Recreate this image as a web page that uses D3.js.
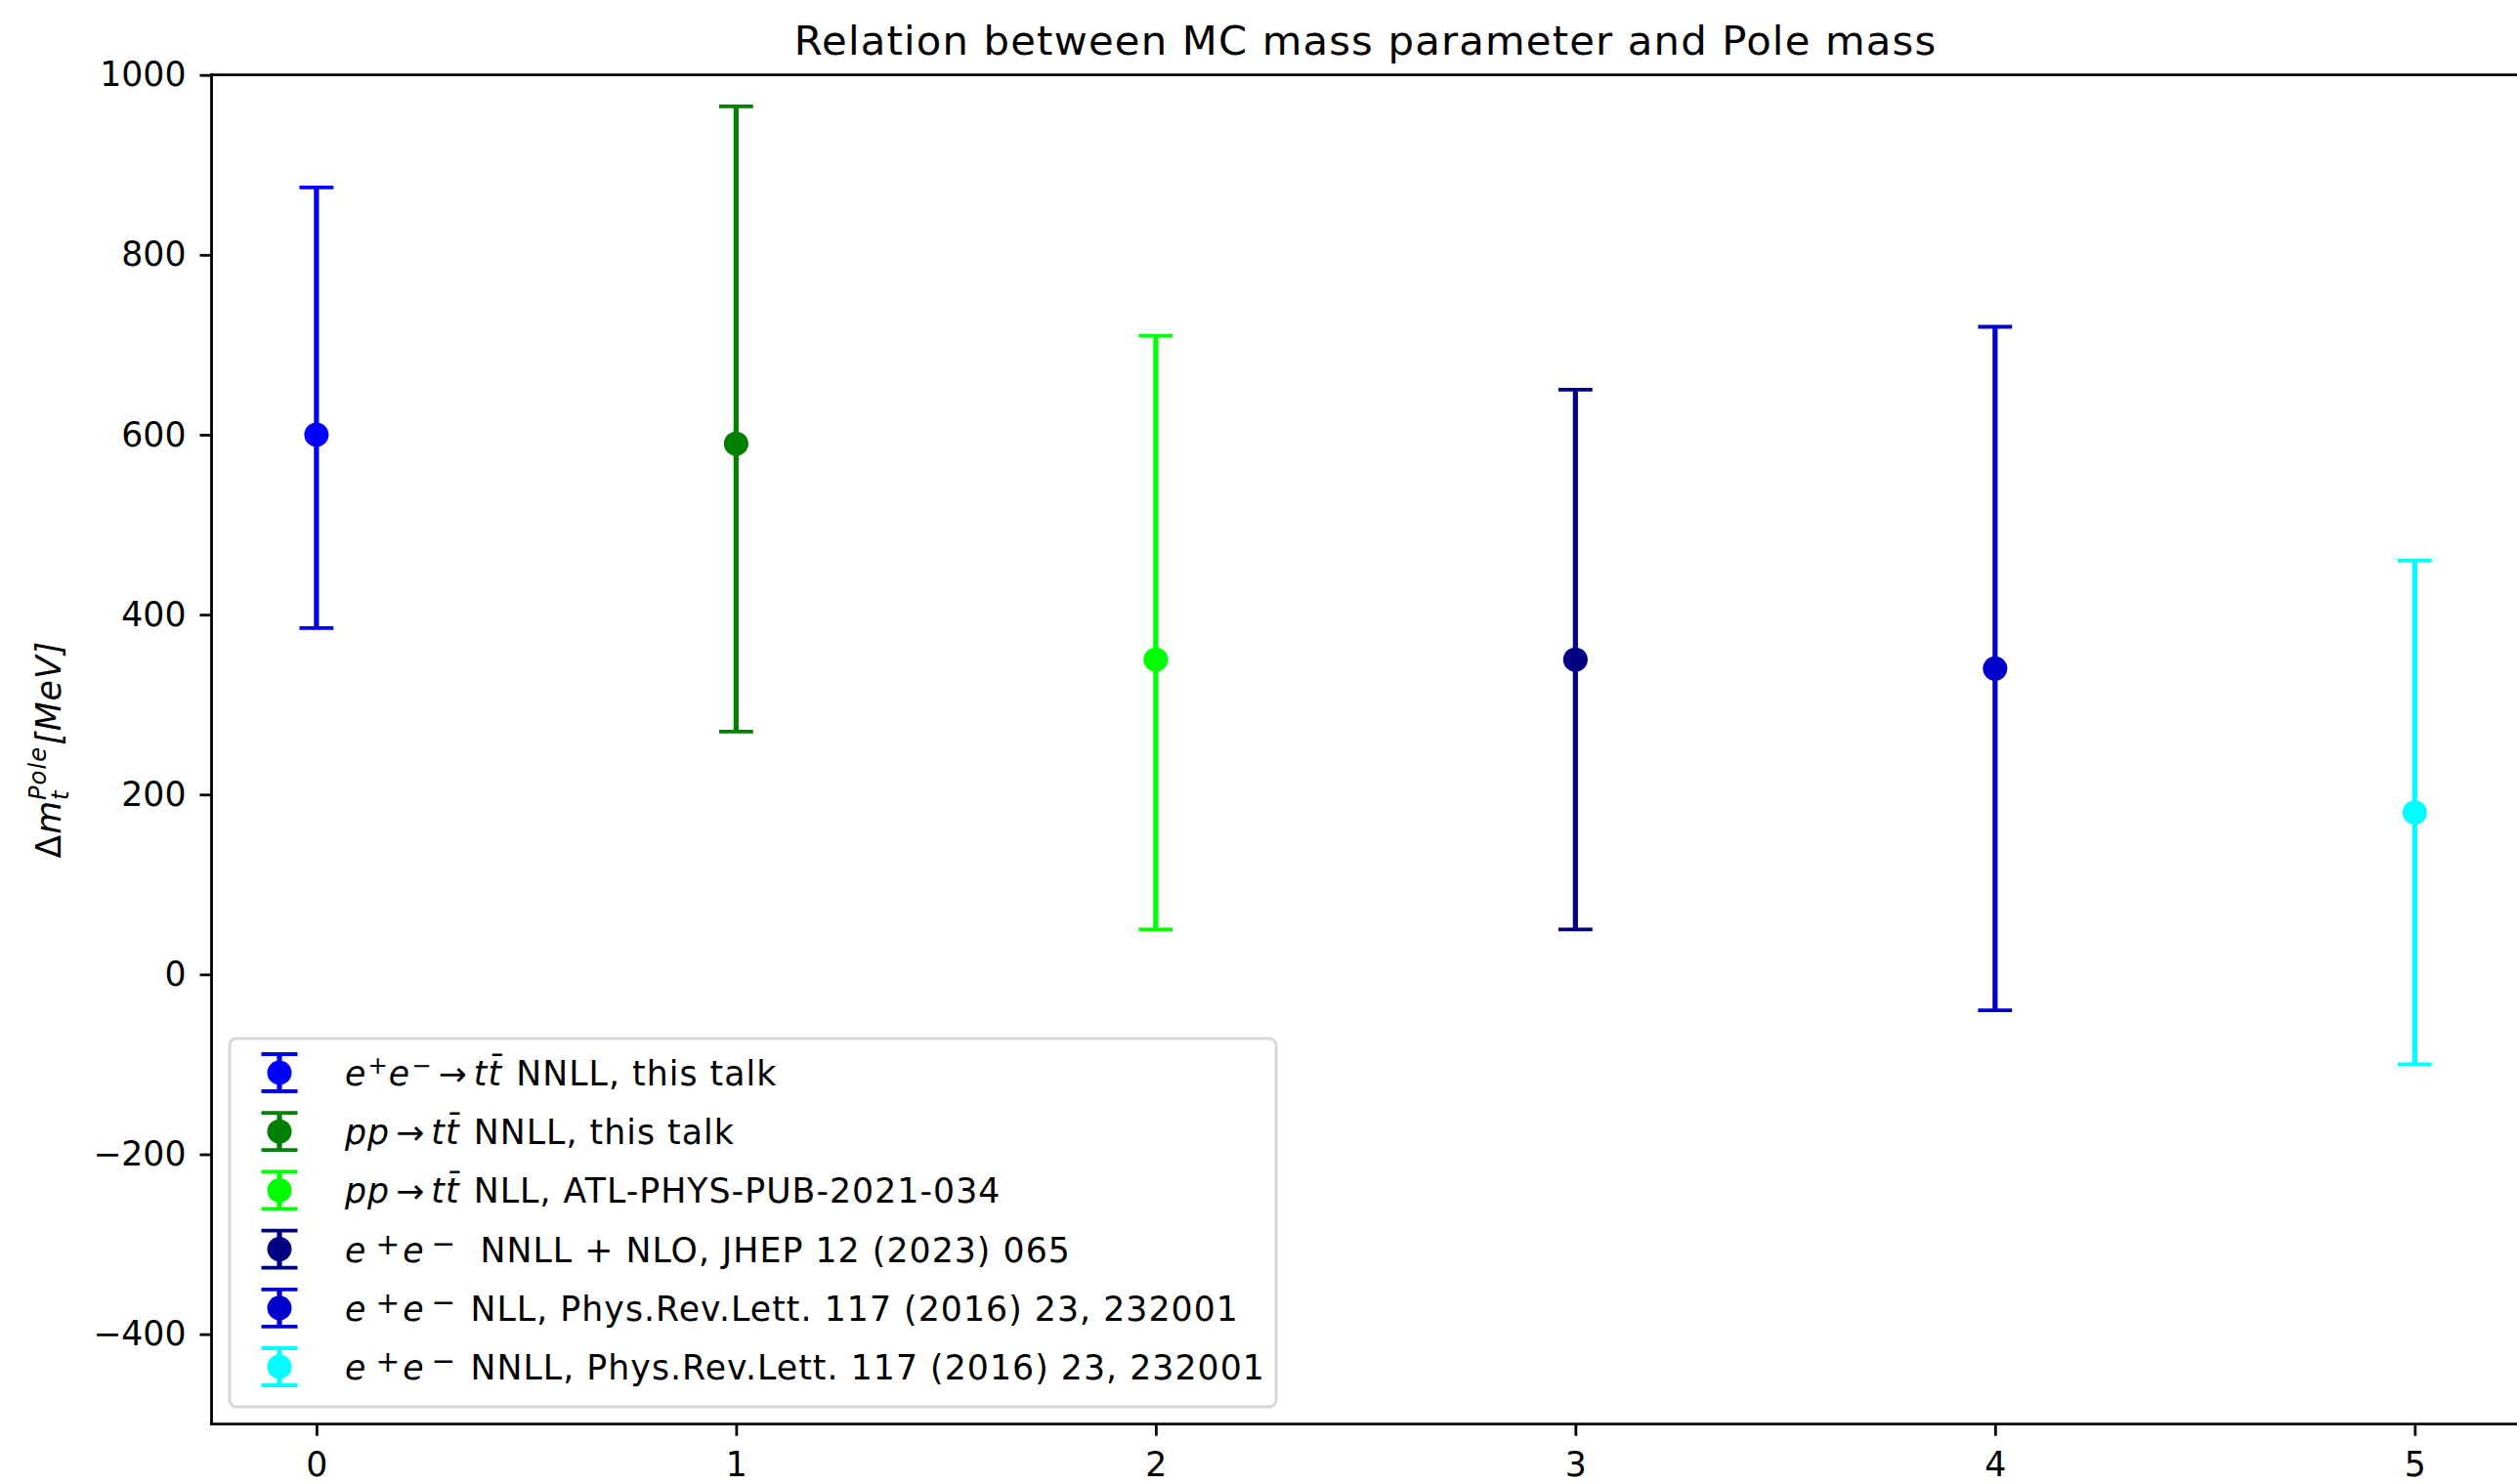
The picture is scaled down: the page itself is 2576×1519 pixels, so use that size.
<!DOCTYPE html>
<html>
<head>
<meta charset="utf-8">
<script src="https://cdn.jsdelivr.net/npm/d3@7"></script>
<style>
html,body{margin:0;padding:0;background:#fff;overflow:hidden;}
svg{display:block;font-family:"DejaVu Sans",sans-serif;}
</style>
</head>
<body>
<svg id="chart" width="2576" height="1519"></svg>
<script>
// ---------------- data ----------------
const categories = [0, 1, 2, 3, 4, 5];
const centralValues = [600, 590, 350, 350, 340, 180];
const upperValues = [875, 965, 710, 650, 720, 460];
const lowerValues = [385, 270, 50, 50, -40, -100];
const yTickValues = [-400, -200, 0, 200, 400, 600, 800, 1000];
const xTickValues = [0, 1, 2, 3, 4, 5];
const titleText = "Relation between MC mass parameter and Pole mass";
const seriesColors = ["#0000ff", "#008000", "#00ff00", "#000080", "#0000cd", "#00ffff"];

// legend labels as text segments (i = italic, fs = relative size, up = raise in px, dx = offset)
const legendLabels = [
  [{t:"e",i:1},{t:"+",fs:0.7,up:12,dx:1},{t:"e",i:1},{t:"\u2212",fs:0.7,up:12,dx:1},{t:"\u2192",dx:6},{t:"tt\u0304",i:1,dx:6},{t:" NNLL, this talk",dx:2}],
  [{t:"pp",i:1},{t:"\u2192",dx:6},{t:"tt\u0304",i:1,dx:6},{t:" NNLL, this talk",dx:2}],
  [{t:"pp",i:1},{t:"\u2192",dx:6},{t:"tt\u0304",i:1,dx:6},{t:" NLL, ATL-PHYS-PUB-2021-034",dx:2}],
  [{t:"e",i:1},{t:"+",fs:0.85,up:8,dx:9},{t:"e",i:1,dx:2},{t:"\u2212",fs:0.85,up:9,dx:7},{t:" NNLL + NLO, JHEP 12 (2023) 065",dx:12}],
  [{t:"e",i:1},{t:"+",fs:0.85,up:8,dx:9},{t:"e",i:1,dx:2},{t:"\u2212",fs:0.85,up:9,dx:7},{t:" NLL, Phys.Rev.Lett. 117 (2016) 23, 232001",dx:2}],
  [{t:"e",i:1},{t:"+",fs:0.85,up:8,dx:9},{t:"e",i:1,dx:2},{t:"\u2212",fs:0.85,up:9,dx:7},{t:" NNLL, Phys.Rev.Lett. 117 (2016) 23, 232001",dx:2}]
];

// ---------------- layout ----------------
const FS = 34.7;        // 10pt @ 250dpi
const svg = d3.select("#chart");
const x = d3.scaleLinear().domain([-0.25, 5.25]).range([216.5, 2578.7]);
const y = d3.scaleLinear().domain([-500, 1000]).range([1457.7, 76.7]);
const [xl, xr] = x.range();
const [yb, yt] = y.range();

// error bars
const capHalf = 17.4;
const g = svg.append("g");
categories.forEach((c, i) => {
  const col = seriesColors[i];
  const cx = x(c);
  g.append("line").attr("x1", cx).attr("x2", cx)
    .attr("y1", y(lowerValues[i])).attr("y2", y(upperValues[i]))
    .attr("stroke", col).attr("stroke-width", 5.2);
  [upperValues[i], lowerValues[i]].forEach(v => {
    g.append("line").attr("x1", cx - capHalf).attr("x2", cx + capHalf)
      .attr("y1", y(v)).attr("y2", y(v))
      .attr("stroke", col).attr("stroke-width", 3.8);
  });
  g.append("circle").attr("cx", cx).attr("cy", y(centralValues[i]))
    .attr("r", 12.5).attr("fill", col);
});

// axes
const fmt = d3.format("d");
const yAxis = svg.append("g").attr("transform", `translate(${xl},0)`)
  .call(d3.axisLeft(y).tickValues(yTickValues).tickFormat(fmt).tickSize(12).tickPadding(14));
const xAxis = svg.append("g").attr("transform", `translate(0,${yb})`)
  .call(d3.axisBottom(x).tickValues(xTickValues).tickFormat(fmt).tickSize(12).tickPadding(17));
[yAxis, xAxis].forEach(a => {
  a.select(".domain").remove();
  a.selectAll(".tick line").attr("stroke", "#000").attr("stroke-width", 2.8);
  a.selectAll(".tick text").attr("fill", "#000")
    .attr("font-family", "DejaVu Sans").attr("font-size", FS);
});

// spines
const spine = svg.append("g").attr("stroke", "#000").attr("stroke-width", 2.8).attr("stroke-linecap", "square");
spine.append("line").attr("x1", xl).attr("x2", xl).attr("y1", yt).attr("y2", yb);
spine.append("line").attr("x1", xr).attr("x2", xr).attr("y1", yt).attr("y2", yb);
spine.append("line").attr("x1", xl).attr("x2", xr).attr("y1", yt).attr("y2", yt);
spine.append("line").attr("x1", xl).attr("x2", xr).attr("y1", yb).attr("y2", yb);

// title
svg.append("text").attr("x", (xl + xr) / 2).attr("y", 56)
  .attr("text-anchor", "middle").attr("font-size", 41.7).attr("letter-spacing", 1.2)
  .attr("fill", "#000")
  .text(titleText);

// y label: Δ m_t^{Pole} [MeV]
const yl = svg.append("text")
  .attr("transform", `translate(62,${(yt + yb) / 2}) rotate(-90)`)
  .attr("text-anchor", "middle").attr("font-size", FS).attr("letter-spacing", 1)
  .attr("fill", "#000");
yl.append("tspan").text("\u0394");
yl.append("tspan").attr("font-style", "italic").text("m");
yl.append("tspan").attr("font-style", "italic").attr("font-size", FS * 0.7).attr("dy", 8).text("t");
yl.append("tspan").attr("font-style", "italic").attr("font-size", FS * 0.7).attr("dx", -10.5).attr("dy", -23).text("Pole");
yl.append("tspan").attr("font-style", "italic").attr("dy", 15).attr("dx", 1).text("[MeV]");

// legend
const lg = svg.append("g");
const lx = 235, ly = 1063, lw = 1071, lh = 377;
lg.append("rect").attr("x", lx).attr("y", ly).attr("width", lw).attr("height", lh)
  .attr("rx", 7).attr("ry", 7).attr("fill", "#fff").attr("fill-opacity", 0.8)
  .attr("stroke", "#d6d6d6").attr("stroke-width", 2.8);
const rowStep = 60.2, firstBase = 1111;
legendLabels.forEach((segs, i) => {
  const by = firstBase + i * rowStep;
  const my = by - 13;
  const mx = 286;
  const col = seriesColors[i];
  lg.append("line").attr("x1", mx).attr("x2", mx).attr("y1", my - 19).attr("y2", my + 19)
    .attr("stroke", col).attr("stroke-width", 5.2);
  [my - 19, my + 19].forEach(yy => lg.append("line").attr("x1", mx - 18.5).attr("x2", mx + 18.5)
    .attr("y1", yy).attr("y2", yy).attr("stroke", col).attr("stroke-width", 3.8));
  lg.append("circle").attr("cx", mx).attr("cy", my).attr("r", 12.5).attr("fill", col);
  const t = lg.append("text").attr("x", 353).attr("y", by).attr("font-size", FS)
    .attr("letter-spacing", 1.05).attr("fill", "#000");
  let cur = 0;
  segs.forEach(s => {
    const up = s.up || 0;
    const ts = t.append("tspan").text(s.t);
    if (s.i) ts.attr("font-style", "italic");
    if (s.fs) ts.attr("font-size", FS * s.fs);
    if (up !== cur) ts.attr("dy", -(up - cur));
    if (s.dx) ts.attr("dx", s.dx);
    cur = up;
  });
});
</script>
</body>
</html>
